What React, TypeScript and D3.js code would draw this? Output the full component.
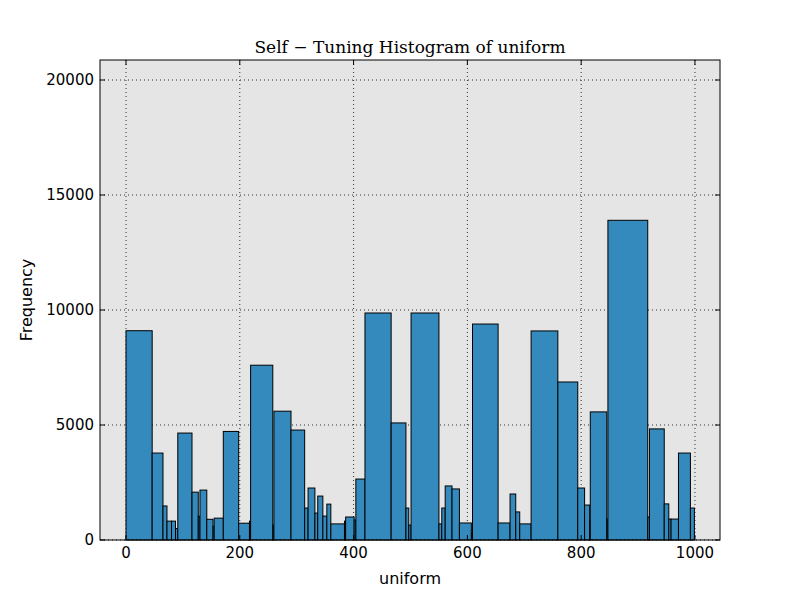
import React from "react";
import * as d3 from "d3";

// bins: [left, right, frequency]
const binEdges: number[] = [0,46,65,72,80,87,91,116,127,130,142,153,155,171,198,217,219,258,260,290,314,320,332,337,346,353,360,384,386,401,404,420,466,492,497,501,550,555,561,573,586,607,609,654,675,685,692,712,759,794,806,815,816,845,847,917,920,946,954,958,971,992,999];
const binValues: number[] = [9100,3780,1480,820,820,500,4650,2080,1030,2170,900,600,950,4720,730,820,7600,650,5600,4780,1390,2260,1170,1910,1040,1560,700,820,1000,870,2650,9870,5090,1390,650,9870,700,1390,2350,2220,740,400,9390,740,2000,1220,700,9090,6870,2260,1520,870,5570,910,13900,1000,4830,1570,910,910,3780,1390];
const xTicks = [0,200,400,600,800,1000];
const yTicks = [0,5000,10000,15000,20000];

export default function App() {
  const W = 800, H = 600;
  const L = 100, R = 720, T = 60, B = 540;
  const x = d3.scaleLinear().domain([-45.7, 1044]).range([L, R]);
  const y = d3.scaleLinear().domain([0, 20870]).range([B, T]);
  const font = "DejaVu Sans";
  return (
    <svg width={W} height={H} style={{ position: "absolute", left: 0, top: 0, background: "#fff" }}>
      <rect x={L} y={T} width={R - L} height={B - T} fill="#e5e5e5" />
      {xTicks.map(t => <line key={"gx"+t} x1={x(t)} x2={x(t)} y1={T} y2={B} stroke="#000" strokeWidth={0.8} strokeDasharray="1,3" />)}
      {yTicks.map(t => <line key={"gy"+t} x1={L} x2={R} y1={y(t)} y2={y(t)} stroke="#000" strokeWidth={0.8} strokeDasharray="1,3" />)}
      {binValues.map((v, i) => (
        <rect key={i} x={x(binEdges[i])} y={y(v)} width={x(binEdges[i+1]) - x(binEdges[i])} height={y(0) - y(v)}
          fill="#348abd" stroke="#000" strokeWidth={1} />
      ))}
      <rect x={L} y={T} width={R - L} height={B - T} fill="none" stroke="#000" strokeWidth={1} />
      {xTicks.map(t => (
        <g key={"tx"+t}>
          <line x1={x(t)} x2={x(t)} y1={B} y2={B-5} stroke="#000" />
          <line x1={x(t)} x2={x(t)} y1={T} y2={T+5} stroke="#000" />
          <text x={x(t)} y={B + 18} textAnchor="middle" fontFamily={font} fontSize={15}>{t}</text>
        </g>
      ))}
      {yTicks.map(t => (
        <g key={"ty"+t}>
          <line x1={L} x2={L+5} y1={y(t)} y2={y(t)} stroke="#000" />
          <line x1={R} x2={R-5} y1={y(t)} y2={y(t)} stroke="#000" />
          <text x={L - 6} y={y(t) + 5} textAnchor="end" fontFamily={font} fontSize={15}>{t}</text>
        </g>
      ))}
      <text x={(L+R)/2} y={584} textAnchor="middle" fontFamily={font} fontSize={16}>uniform</text>
      <text transform={`translate(32,${(T+B)/2}) rotate(-90)`} textAnchor="middle" fontFamily={font} fontSize={16}>Frequency</text>
      <text x={(L+R)/2} y={53} textAnchor="middle" fontFamily="DejaVu Serif" fontSize={17}>Self − Tuning Histogram of uniform</text>
    </svg>
  );
}
